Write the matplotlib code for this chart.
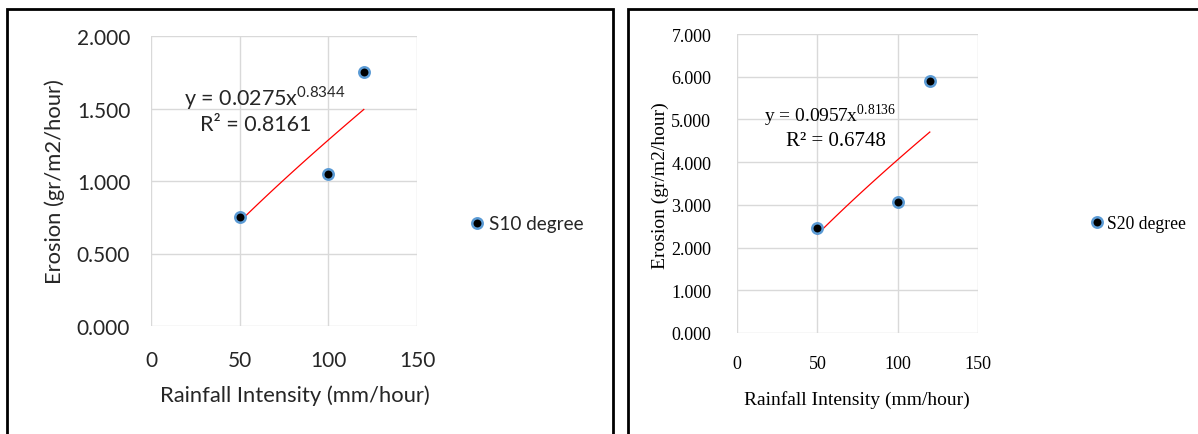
import numpy as np
import matplotlib.pyplot as plt
from matplotlib.patches import Rectangle

# rainfall intensity (mm/hour) and erosion (gr/m2/hour)
rain = [50, 100, 120]
erosion_s10 = [0.75, 1.05, 1.75]
erosion_s20 = [2.45, 3.07, 5.9]

# power trendlines y = a * x^b, with R^2
fit_s10 = (0.0275, 0.8344, 0.8161)
fit_s20 = (0.0957, 0.8136, 0.6748)

W, H = 1198, 435
fig = plt.figure(figsize=(W / 100, H / 100), dpi=100)


def px_axes(x0, y0, x1, y1):
    ax = fig.add_axes([x0 / W, 1 - y1 / H, (x1 - x0) / W, (y1 - y0) / H])
    ax.box_px = (x0, y0, x1, y1)
    return ax


def frame(x0, y0, x1, y1):
    fig.patches.append(Rectangle((x0 / W, 1 - y1 / H), (x1 - x0) / W, (y1 - y0) / H,
                                 transform=fig.transFigure, fill=False,
                                 edgecolor='black', linewidth=2.0))


def to_axes(ax, x, y):
    x0, y0, x1, y1 = ax.box_px
    return (x - x0) / (x1 - x0), (y1 - y) / (y1 - y0)


def panel(ax, y, fit, ymax, ystep, name, family, sizes, color, pads,
          eq_xy, r2_xy, leg_xy, xlab_xy, ylab_xy):
    tick_size, lab_size, eq_size, r2_size, leg_size = sizes
    a, b, r2 = fit
    xs = np.linspace(min(rain), max(rain), 50)
    ax.plot(xs, a * xs ** b, color='red', linewidth=0.9, zorder=2)
    ax.plot(rain, y, 'o', color='black', markersize=7.5, markeredgecolor='#5b9bd5',
            markeredgewidth=1.8, label=name, zorder=3, linestyle='none')
    ax.set_xlim(0, 150)
    ax.set_ylim(0, ymax)
    yt = np.arange(0, ymax + ystep / 2, ystep)
    ax.set_xticks([0, 50, 100, 150])
    ax.set_yticks(yt)
    ax.set_yticklabels(['%.3f' % v for v in yt])
    ax.grid(True, color='#d9d9d9', linewidth=1.0)
    ax.set_axisbelow(True)
    for s in ax.spines.values():
        s.set_visible(False)
    ax.tick_params(length=0, labelsize=tick_size, labelcolor=color)
    ax.tick_params(axis='x', pad=pads[0])
    ax.tick_params(axis='y', pad=pads[1])
    for lab in ax.get_xticklabels() + ax.get_yticklabels():
        lab.set_family(family)
    ax.set_xlabel('Rainfall Intensity (mm/hour)', family=family, fontsize=lab_size,
                  color=color)
    ax.set_ylabel('Erosion (gr/m2/hour)', family=family, fontsize=lab_size, color=color)
    ax.xaxis.set_label_coords(*to_axes(ax, *xlab_xy))
    ax.yaxis.set_label_coords(*to_axes(ax, *ylab_xy))
    ax.xaxis.label.set_va('center')
    ax.yaxis.label.set_va('center')
    eq = 'y = %.4fx$^{\\mathregular{%.4f}}$' % (a, b)
    ax.text(eq_xy[0] / W, 1 - eq_xy[1] / H, eq, transform=fig.transFigure,
            family=family, fontsize=eq_size, color=color, ha='center', va='center')
    ax.text(r2_xy[0] / W, 1 - r2_xy[1] / H, 'R² = %.4f' % r2, transform=fig.transFigure,
            family=family, fontsize=r2_size, color=color, ha='center', va='center')
    leg = ax.legend(loc='center left', bbox_to_anchor=(leg_xy[0] / W, 1 - leg_xy[1] / H),
                    bbox_transform=fig.transFigure, frameon=False, handletextpad=0.1,
                    handlelength=1.0, borderaxespad=0, borderpad=0,
                    prop={'family': family, 'size': leg_size})
    for t in leg.get_texts():
        t.set_color(color)


frame(7, 10, 613, 445)
frame(628, 10, 1210, 445)

ax1 = px_axes(151, 37, 417, 327)
panel(ax1, erosion_s10, fit_s10, 2.0, 0.5, 'S10 degree', 'Lato',
      (15, 15.8, 15.5, 15.5, 13.6), '#262626', (17, 15),
      (265, 98), (256, 125), (468, 225), (295, 396), (55, 182))

ax2 = px_axes(737, 35, 978, 334)
panel(ax2, erosion_s20, fit_s20, 7.0, 1.0, 'S20 degree', 'Liberation Serif',
      (13, 14, 14, 15, 12.7), 'black', (16, 18.5),
      (830, 116), (836, 142), (1088, 225), (857, 400), (660, 186))

fig.savefig('out.png', dpi=100)
